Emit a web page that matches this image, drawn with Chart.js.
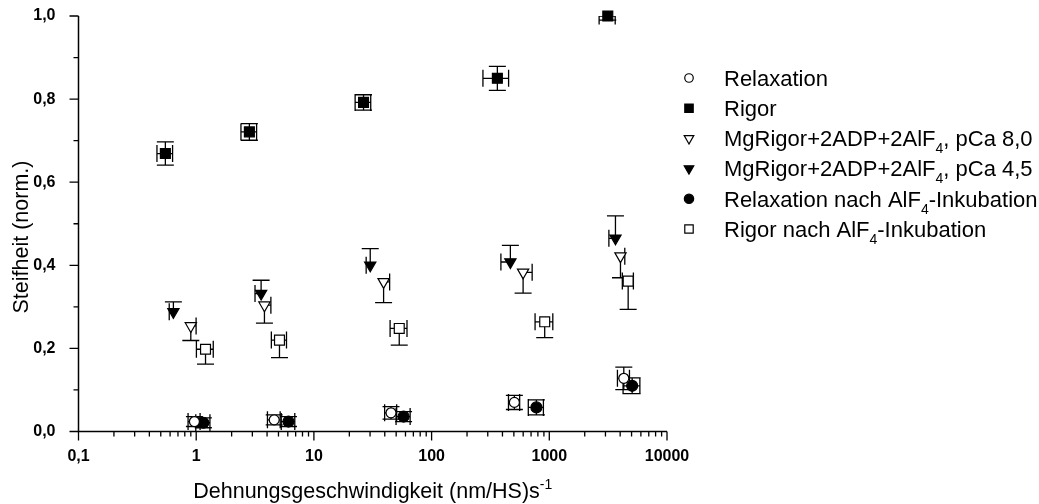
<!DOCTYPE html>
<html>
<head>
<meta charset="utf-8">
<script src="https://cdn.jsdelivr.net/npm/chart.js@4.4.1/dist/chart.umd.min.js"></script>
<style>
  html, body { margin: 0; padding: 0; background: #fff; }
  #wrap { width: 1039px; height: 504px; }
</style>
</head>
<body>
<div id="wrap"><canvas id="chart" width="1039" height="504"></canvas></div>
<script>
// --- data ---
const seriesNames = [
  'Relaxation',
  'Rigor',
  'MgRigor+2ADP+2AlF_{4}, pCa 8,0',
  'MgRigor+2ADP+2AlF_{4}, pCa 4,5',
  'Relaxation nach AlF_{4}-Inkubation',
  'Rigor nach AlF_{4}-Inkubation'
];

const relaxX    = [0.966, 4.6, 45.2, 505, 4295];
const relaxY    = [0.024, 0.028, 0.045, 0.070, 0.128];
const relaxXErr = [0.113, 0.57, 5.3, 55, 503];
const relaxYErr = [0.012, 0.012, 0.015, 0.017, 0.027];

const rigorX    = [0.547, 2.83, 26.4, 362, 3140];
const rigorY    = [0.669, 0.721, 0.792, 0.850, 1.0];
const rigorXErr = [0.083, 0.43, 4.0, 89, 490];
const rigorYErr = [0.028, 0.020, 0.0185, 0.029, 0.010];

const pca80X        = [0.90, 3.80, 39.1, 599, 4025];
const pca80Y        = [0.254, 0.304, 0.360, 0.383, 0.422];
const pca80XErrPlus = [0.098, 0.51, 4.9, 116, 354];
const pca80YErrMinus= [0.035, 0.043, 0.050, 0.050, 0.052];

const pca45X         = [0.64, 3.56, 30.1, 467, 3648];
const pca45Y         = [0.288, 0.332, 0.400, 0.408, 0.465];
const pca45XErrMinus = [0.05, 0.40, 2.3, 79, 440];
const pca45YErrPlus  = [0.024, 0.032, 0.040, 0.040, 0.054];

const relaxAlfX    = [1.15, 6.08, 57.8, 777, 5058];
const relaxAlfY    = [0.021, 0.024, 0.036, 0.058, 0.110];
const relaxAlfXErr = [0.158, 0.80, 7.9, 114, 824];
const relaxAlfYErr = [0.012, 0.012, 0.012, 0.018, 0.019];

const rigorAlfX         = [1.20, 5.10, 53.1, 914, 4677];
const rigorAlfY         = [0.198, 0.220, 0.248, 0.264, 0.362];
const rigorAlfXErr      = [0.196, 0.75, 8.7, 157, 505];
const rigorAlfYErrMinus = [0.036, 0.042, 0.040, 0.038, 0.068];

const xTickValues = [0.1, 1, 10, 100, 1000, 10000];
const xTickLabels = ['0,1', '1', '10', '100', '1000', '10000'];
const yTickValues = [0, 0.2, 0.4, 0.6, 0.8, 1.0];
const yTickLabels = ['0,0', '0,2', '0,4', '0,6', '0,8', '1,0'];

const xTitle = 'Dehnungsgeschwindigkeit (nm/HS)s^{-1}';
const yTitle = 'Steifheit (norm.)';

// --- helpers ---
const FONT = "'Liberation Sans', Arial, sans-serif";

function pts(xs, ys) {
  return xs.map((x, i) => ({ x: x, y: ys[i] }));
}

// one dataset, errors kept as extra keys (xm/xp/ym/yp)
function makeSet(label, xs, ys, err, style) {
  return Object.assign({
    label: label,
    data: pts(xs, ys),
    err: err,
    borderColor: '#000',
    borderWidth: 1.2,
    clip: false
  }, style);
}

const datasets = [
  makeSet(seriesNames[0], relaxX, relaxY,
    { xm: relaxXErr, xp: relaxXErr, ym: relaxYErr, yp: relaxYErr },
    { pointStyle: 'circle', pointRadius: 5, backgroundColor: '#fff' }),
  makeSet(seriesNames[1], rigorX, rigorY,
    { xm: rigorXErr, xp: rigorXErr, ym: rigorYErr, yp: rigorYErr },
    { pointStyle: 'rect', pointRadius: 7, backgroundColor: '#000' }),
  makeSet(seriesNames[2], pca80X, pca80Y,
    { xp: pca80XErrPlus, ym: pca80YErrMinus },
    { pointStyle: 'triangle', rotation: 180, pointRotation: 180, pointRadius: 6.5, backgroundColor: '#fff' }),
  makeSet(seriesNames[3], pca45X, pca45Y,
    { xm: pca45XErrMinus, yp: pca45YErrPlus },
    { pointStyle: 'triangle', rotation: 180, pointRotation: 180, pointRadius: 6.5, backgroundColor: '#000' }),
  makeSet(seriesNames[4], relaxAlfX, relaxAlfY,
    { xm: relaxAlfXErr, xp: relaxAlfXErr, ym: relaxAlfYErr, yp: relaxAlfYErr },
    { pointStyle: 'circle', pointRadius: 5.5, backgroundColor: '#000' }),
  makeSet(seriesNames[5], rigorAlfX, rigorAlfY,
    { xm: rigorAlfXErr, xp: rigorAlfXErr, ym: rigorAlfYErrMinus },
    { pointStyle: 'rect', pointRadius: 7, backgroundColor: '#fff' })
];

// text with _{sub} and ^{sup} parts
function richParts(text) {
  return text.split(/(_\{[^}]*\}|\^\{[^}]*\})/).filter(s => s.length).map(s => {
    if (s[0] === '_') return { t: s.slice(2, -1), k: 'sub' };
    if (s[0] === '^') return { t: s.slice(2, -1), k: 'sup' };
    return { t: s, k: 'n' };
  });
}
function partFont(p, size) {
  return (p.k === 'n' ? size : Math.round(size * 0.65)) + 'px ' + FONT;
}
function richWidth(ctx, text, size) {
  let w = 0;
  richParts(text).forEach(p => { ctx.font = partFont(p, size); w += ctx.measureText(p.t).width; });
  return w;
}
// x = left edge, y = baseline
function drawRich(ctx, text, x, y, size) {
  ctx.textBaseline = 'alphabetic';
  ctx.textAlign = 'left';
  richParts(text).forEach(p => {
    ctx.font = partFont(p, size);
    let dy = 0;
    if (p.k === 'sub') dy = size * 0.32;
    if (p.k === 'sup') dy = -size * 0.42;
    ctx.fillText(p.t, x, y + dy);
    x += ctx.measureText(p.t).width;
  });
}

// --- plugins ---
const CAP = 8.5;

const errorBars = {
  id: 'errorBars',
  beforeDatasetsDraw(chart) {
    const ctx = chart.ctx, xs = chart.scales.x, ys = chart.scales.y, a = chart.chartArea;
    ctx.save();
    ctx.beginPath();
    ctx.rect(a.left, a.top, a.right - a.left, a.bottom - a.top);
    ctx.clip();
    ctx.strokeStyle = '#000';
    ctx.lineWidth = 1.3;
    chart.data.datasets.forEach(ds => {
      const e = ds.err;
      ds.data.forEach((p, i) => {
        const px = xs.getPixelForValue(p.x), py = ys.getPixelForValue(p.y);
        ctx.beginPath();
        if (e.yp) {
          const t = ys.getPixelForValue(p.y + e.yp[i]);
          ctx.moveTo(px, py); ctx.lineTo(px, t);
          ctx.moveTo(px - CAP, t); ctx.lineTo(px + CAP, t);
        }
        if (e.ym) {
          const b = ys.getPixelForValue(p.y - e.ym[i]);
          ctx.moveTo(px, py); ctx.lineTo(px, b);
          ctx.moveTo(px - CAP, b); ctx.lineTo(px + CAP, b);
        }
        if (e.xp) {
          const r = xs.getPixelForValue(p.x + e.xp[i]);
          ctx.moveTo(px, py); ctx.lineTo(r, py);
          ctx.moveTo(r, py - CAP); ctx.lineTo(r, py + CAP);
        }
        if (e.xm) {
          const l = xs.getPixelForValue(p.x - e.xm[i]);
          ctx.moveTo(px, py); ctx.lineTo(l, py);
          ctx.moveTo(l, py - CAP); ctx.lineTo(l, py + CAP);
        }
        ctx.stroke();
      });
    });
    ctx.restore();
  }
};

const axesPlugin = {
  id: 'axesPlugin',
  beforeDatasetsDraw(chart) {
    const ctx = chart.ctx, xs = chart.scales.x, ys = chart.scales.y, a = chart.chartArea;
    ctx.save();
    ctx.strokeStyle = '#000';
    ctx.lineWidth = 1.5;
    ctx.beginPath();
    ctx.moveTo(a.left, a.top); ctx.lineTo(a.left, a.bottom); ctx.lineTo(a.right, a.bottom);
    ctx.stroke();
    ctx.lineWidth = 1.3;
    ctx.beginPath();
    // x ticks: decades long, 2..9 short
    for (let d = 0.1; d < 10000 * 1.01; d *= 10) {
      const px = xs.getPixelForValue(d);
      ctx.moveTo(px, a.bottom); ctx.lineTo(px, a.bottom + 9);
      if (d < 9999) {
        for (let k = 2; k <= 9; k++) {
          const mx = xs.getPixelForValue(d * k);
          ctx.moveTo(mx, a.bottom); ctx.lineTo(mx, a.bottom + 5);
        }
      }
    }
    // y ticks: 0.2 long, 0.1 short
    for (let i = 0; i <= 10; i++) {
      const py = ys.getPixelForValue(i / 10);
      ctx.moveTo(a.left, py); ctx.lineTo(a.left - (i % 2 === 0 ? 9 : 5), py);
    }
    ctx.stroke();
    ctx.restore();
  },
  afterDraw(chart) {
    const ctx = chart.ctx, a = chart.chartArea;
    ctx.save();
    ctx.fillStyle = '#000';
    // axis titles
    const xw = richWidth(ctx, xTitle, 21.5);
    drawRich(ctx, xTitle, (a.left + a.right) / 2 - xw / 2, 498, 21.5);
    ctx.translate(28, 237);
    ctx.rotate(-Math.PI / 2);
    ctx.font = '21.5px ' + FONT;
    ctx.textAlign = 'center';
    ctx.textBaseline = 'alphabetic';
    ctx.fillText(yTitle, 0, 0);
    ctx.restore();

    // legend
    ctx.save();
    chart.data.datasets.forEach((ds, i) => {
      const cy = 78 + i * 30.2;
      ctx.fillStyle = ds.backgroundColor;
      ctx.strokeStyle = '#000';
      ctx.lineWidth = 1.2;
      Chart.helpers.drawPoint(ctx, {
        pointStyle: ds.pointStyle,
        rotation: ds.pointRotation || 0,
        radius: ds.pointRadius * 0.85,
        borderWidth: 1.2
      }, 689, cy);
      ctx.fillStyle = '#000';
      drawRich(ctx, ds.label, 724, cy + 7.8, 22);
    });
    ctx.restore();
  }
};

// --- chart ---
const tickFont = { family: FONT, size: 16, weight: 'bold' };

new Chart(document.getElementById('chart'), {
  type: 'scatter',
  data: { datasets: datasets },
  options: {
    responsive: false,
    animation: false,
    events: [],
    layout: { padding: { left: 0, right: 372, top: 16, bottom: 0 } },
    plugins: { legend: { display: false }, tooltip: { enabled: false } },
    scales: {
      x: {
        type: 'logarithmic',
        min: 0.1,
        max: 10000,
        afterBuildTicks: s => { s.ticks = xTickValues.map(v => ({ value: v })); },
        afterFit: s => { s.height = 72.5; s.paddingLeft = 0; s.paddingRight = 0; },
        grid: { display: false },
        border: { display: false },
        ticks: {
          autoSkip: false, maxRotation: 0, padding: 7.5, color: '#000', font: tickFont,
          callback: (v, i) => xTickLabels[i]
        }
      },
      y: {
        min: 0,
        max: 1,
        afterBuildTicks: s => { s.ticks = yTickValues.map(v => ({ value: v })); },
        afterFit: s => { s.width = 78.5; s.paddingTop = 0; s.paddingBottom = 0; },
        grid: { display: false },
        border: { display: false },
        ticks: {
          padding: 15, color: '#000', font: tickFont,
          callback: (v, i) => yTickLabels[i]
        }
      }
    }
  },
  plugins: [axesPlugin, errorBars]
});
</script>
</body>
</html>
